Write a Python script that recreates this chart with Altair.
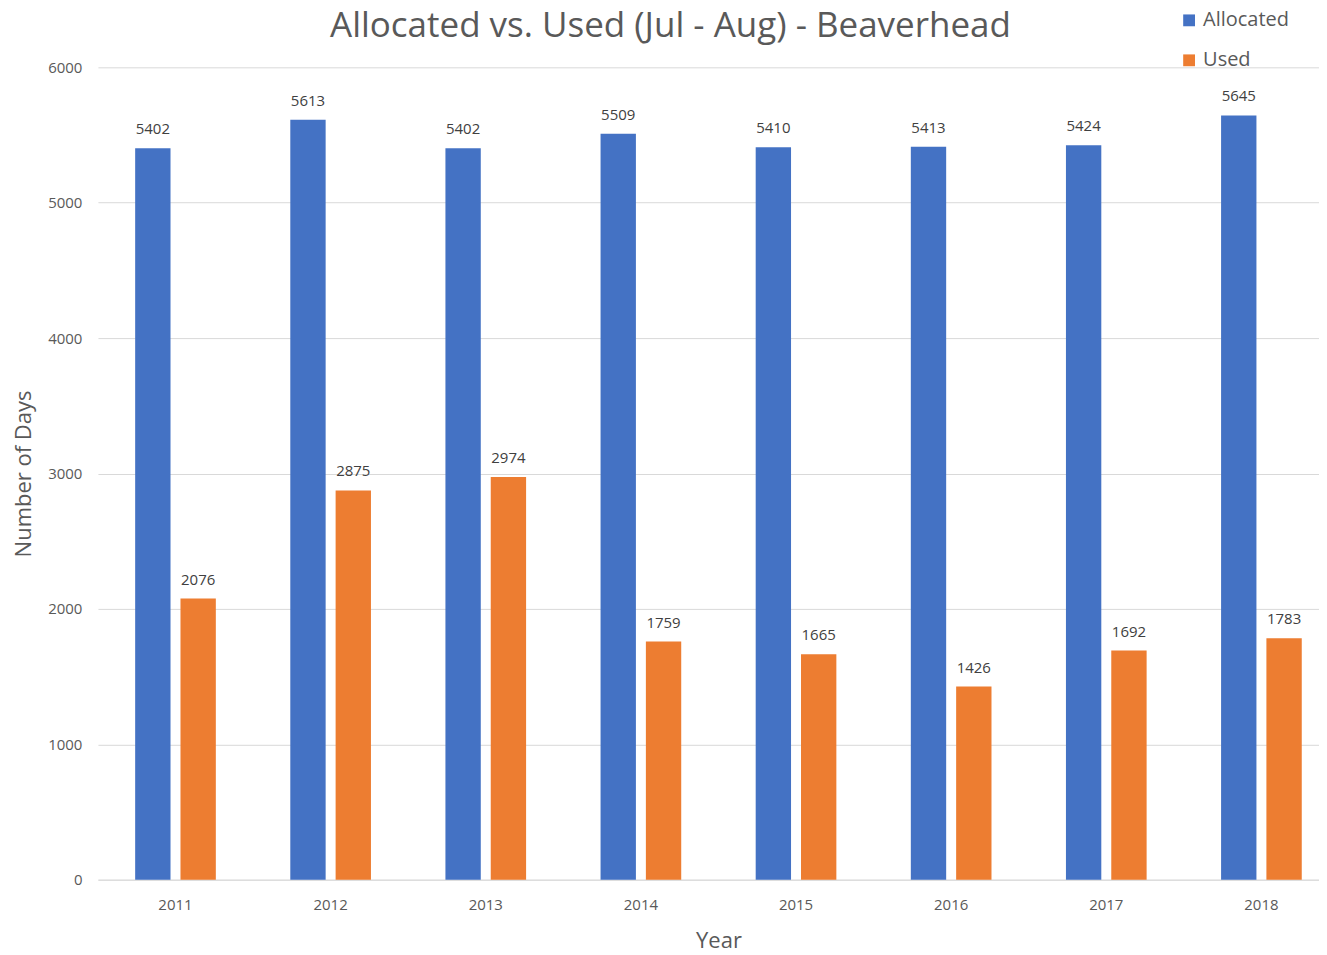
import altair as alt
import pandas as pd

years = ["2011", "2012", "2013", "2014", "2015", "2016", "2017", "2018"]
allocated = [5402, 5613, 5402, 5509, 5410, 5413, 5424, 5645]
used = [2076, 2875, 2974, 1759, 1665, 1426, 1692, 1783]
series = ["Allocated", "Used"]

rows = []
for y, a, u in zip(years, allocated, used):
    rows.append({"Year": y, "Series": "Allocated", "Value": a})
    rows.append({"Year": y, "Series": "Used", "Value": u})
df = pd.DataFrame(rows)

FONT = "Open Sans"
GRAY = "#595959"

x = alt.X("Year:N", sort=years,
          scale=alt.Scale(paddingInner=0.48, paddingOuter=0.24, range=[0, 1242]),
          axis=alt.Axis(title="Year", labelAngle=0, ticks=False, labelPadding=18,
                        titlePadding=18, domainColor="#D9D9D9", grid=False))
xo = alt.XOffset("Series:N", sort=series, scale=alt.Scale(paddingInner=0.22, paddingOuter=0))
y = alt.Y("Value:Q", scale=alt.Scale(domain=[0, 6000]),
          axis=alt.Axis(title="Number of Days", values=[0, 1000, 2000, 3000, 4000, 5000, 6000],
                        format="d", domain=False, ticks=False, labelPadding=16, titlePadding=12,
                        gridColor="#D9D9D9"))

color = alt.Color("Series:N", sort=series,
                  scale=alt.Scale(domain=series, range=["#4472C4", "#ED7D31"]),
                  legend=alt.Legend(title=None, orient="none", legendX=1082, legendY=-57,
                                    symbolType="square", symbolSize=140,
                                    labelFontSize=20, labelColor=GRAY, labelFont=FONT,
                                    rowPadding=20, symbolStrokeWidth=0))

bars = alt.Chart(df).mark_bar().encode(x=x, xOffset=xo, y=y, color=color)
labels = alt.Chart(df).mark_text(dy=-19, fontSize=15, color="#404040", font=FONT).encode(
    x=x, xOffset=xo, y=y, text="Value:Q")

chart = (bars + labels).properties(
    width=1222, height=813,
    title=alt.TitleParams("Allocated vs. Used (Jul - Aug) - Beaverhead", fontSize=35,
                          color=GRAY, font=FONT, fontWeight="normal", anchor="middle",
                          frame="group", dx=-38, dy=66, offset=32),
    autosize=alt.AutoSizeParams(type="none"),
    padding={"left": 90, "top": 59, "right": 0, "bottom": 75},
    background="white",
).configure_view(stroke=None).configure_axis(
    labelFont=FONT, labelFontSize=15, labelColor=GRAY,
    titleFont=FONT, titleFontSize=22, titleColor=GRAY, titleFontWeight="normal"
)

chart.save("out.html", embed_options={"renderer": "svg", "actions": False})
